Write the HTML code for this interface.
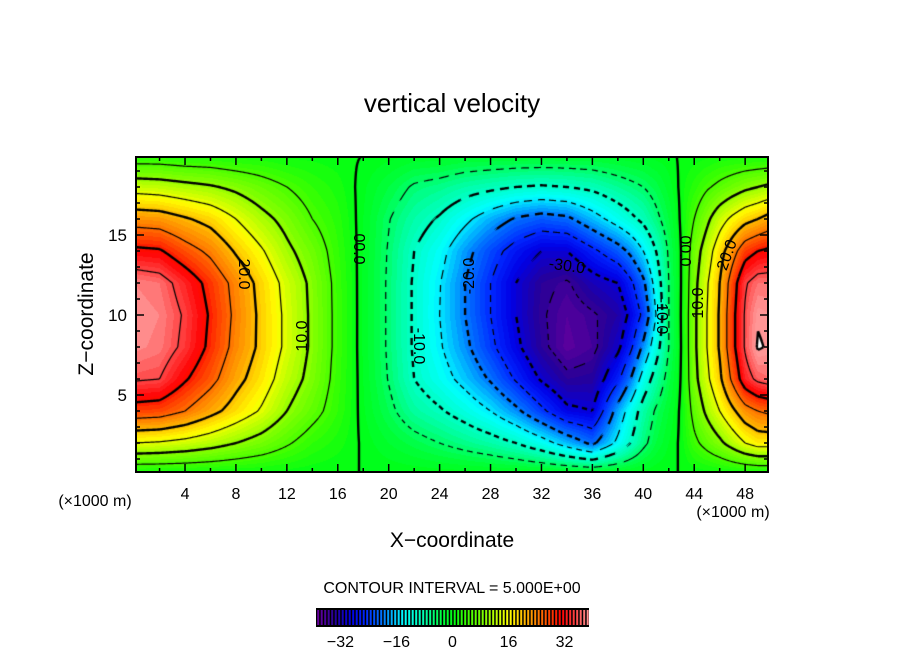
<!DOCTYPE html>
<html><head><meta charset="utf-8">
<style>
html,body{margin:0;padding:0;background:#fff;}
#wrap{position:relative;width:904px;height:654px;overflow:hidden;font-family:"Liberation Sans",sans-serif;}
#field{position:absolute;left:136px;top:157px;}
svg{position:absolute;left:0;top:0;}
</style></head>
<body>
<div id="wrap">
<canvas id="field" width="632" height="315"></canvas>
<svg id="ov" width="904" height="654">
 <text x="452" y="112" font-size="26" text-anchor="middle">vertical velocity</text>
 <text x="452" y="547" font-size="21" text-anchor="middle">X−coordinate</text>
 <text transform="translate(93,314) rotate(-90)" font-size="21" text-anchor="middle">Z−coordinate</text>
 <text x="95" y="506" font-size="16" text-anchor="middle">(×1000 m)</text>
 <text x="733" y="517" font-size="16" text-anchor="middle">(×1000 m)</text>
 <text x="452" y="593" font-size="16" text-anchor="middle">CONTOUR INTERVAL = 5.000E+00</text>
 <g id="labels" font-size="16" fill="#000">
  <text transform="translate(244,274) rotate(90)" text-anchor="middle" dy="5">20.0</text>
  <text transform="translate(302,336) rotate(-90)" text-anchor="middle" dy="5">10.0</text>
  <text transform="translate(359,249) rotate(90)" text-anchor="middle" dy="5">00.0</text>
  <text transform="translate(419,346) rotate(90)" text-anchor="middle" dy="5">-10.0</text>
  <text transform="translate(469,276) rotate(-90)" text-anchor="middle" dy="5">-20.0</text>
  <text transform="translate(567,266) rotate(8)" text-anchor="middle" dy="5">-30.0</text>
  <text transform="translate(662,316) rotate(90)" text-anchor="middle" dy="5">-10.0</text>
  <text transform="translate(685,251) rotate(90)" text-anchor="middle" dy="5">00.0</text>
  <text transform="translate(698,303) rotate(-90)" text-anchor="middle" dy="5">10.0</text>
  <text transform="translate(727,255) rotate(-70)" text-anchor="middle" dy="5">20.0</text>
 </g>
 <g id="axes"></g>
 <g id="cbar"></g>
</svg>
</div>
<script>
// ---- data ----
const xNodes=[0,2,4,6,8,10,12,14,16,18,20,22,24,26,28,30,32,34,36,38,39,40,41,42,43,44,45,46,47,48,49,50];
const zNodes=[0,2,4,6,8,10,12,14,16,18,20];
const wGrid=[
[0,15,28,35.5,38.5,39,38,31,23,13,2],
[0,14.5,27.5,35,37.5,38,37,30.5,22.5,12.5,2],
[0,13.5,25,30.5,34,34.5,33,27,20.5,11.5,1.5],
[0,12,21.5,26.5,29,29.5,28.5,24,18.5,10.5,1.5],
[0,10,18,21.5,23.5,24,23.5,19.5,15,9,1],
[0,8,14.5,17.5,19,19,18.5,15.5,11.5,7,1],
[0,5.5,10,12.5,14,14,13.5,11,8.5,5,0.5],
[0,3,6.5,8.5,9.2,9.2,9,7.5,5,3,0.5],
[0,1.5,3,3.5,3.8,3.8,3.7,3.2,2.5,1.5,0.3],
[0,-0.3,-0.8,-1,-1.2,-1.2,-1.2,-1.1,-1,-0.7,0],
[0,-2,-4,-5.2,-5.5,-5.5,-5.5,-5.3,-4.8,-3,-0.5],
[0,-3.5,-7.5,-10,-10.5,-10.5,-10.5,-10,-8,-5.5,-1],
[0,-5,-9.5,-13,-14.5,-15,-14.8,-13.5,-10.5,-6.5,-1],
[0,-6.5,-12,-16.5,-19,-20,-20,-18.5,-14,-8,-1.5],
[0,-8,-15,-20.5,-24,-25,-25,-23,-17.5,-9,-1.5],
[0,-10,-19,-25.5,-29,-30,-30,-27,-20.5,-10,-1.5],
[0,-13,-24,-30.5,-34,-34.5,-34,-30,-22,-10.5,-1.5],
[0,-17,-29,-34,-37.5,-37,-35.5,-30,-21,-10,-1.5],
[0,-21,-30,-33.5,-36,-35.5,-32,-26,-17,-9,-1.5],
[0,-14,-18,-26,-31,-33,-30,-22,-13,-7,-1.2],
[0,-10,-13,-20,-26,-29,-26,-19,-11,-6,-1],
[0,-6,-8,-13,-19,-24,-21,-15,-9,-5,-0.8],
[0,-3,-4.5,-8,-12,-15,-13,-10,-6,-3.5,-0.5],
[0,-1,-2,-3.5,-5,-5,-5,-4.5,-3,-1.5,-0.3],
[0,0.4,0.5,0.3,0.2,0.3,0.2,0.2,0.5,0.5,0.2],
[0,4,6.5,8.5,9,9,8.5,7.5,5,2.5,0.3],
[0,6.5,11,14,15,15,14.5,12.5,9,4.5,0.5],
[0,9,15,19,20.5,20.5,20,18,13,6,1],
[0,12,19,26,28.5,28.5,27.5,23,16,7.5,1],
[0,15,23,33,35.5,35.5,34.5,28,18.5,9,1],
[0,17,25,36,40.4,39.6,37,30,20,10,1],
[0,17,26,37,39.5,39,37,31,22,11,1]
];
const contourLevels=[-35,-30,-25,-20,-15,-10,-5,0,5,10,15,20,25,30,35,40];
const xTicks=[4,8,12,16,20,24,28,32,36,40,44,48];
const zTicks=[5,10,15];
const cbarTicks=[-32,-16,0,16,32];
const cbarMin=-39, cbarMax=39;

// ---- scales ----
const PX0=134.1, PXU=12.73, PZ0=475, PZU=16;
const PL=136, PT=157, W=632, H=315;
const sx=x=>PX0+x*PXU, sz=z=>PZ0-z*PZU;
const ix=px=>(px-PX0)/PXU, iz=py=>(PZ0-py)/PZU;

function locate(arr,v){let i=0;while(i<arr.length-2&&v>arr[i+1])i++;return i;}
function w(x,z){
  x=Math.max(0,Math.min(50,x));z=Math.max(0,Math.min(20,z));
  const i=locate(xNodes,x), j=locate(zNodes,z);
  const tx=(x-xNodes[i])/(xNodes[i+1]-xNodes[i]), tz=(z-zNodes[j])/(zNodes[j+1]-zNodes[j]);
  const a=wGrid[i][j],b=wGrid[i+1][j],c=wGrid[i][j+1],d=wGrid[i+1][j+1];
  return (a*(1-tx)+b*tx)*(1-tz)+(c*(1-tx)+d*tx)*tz;
}
const stops=[[-39,[110,0,160]],[-34,[40,0,150]],[-29,[0,0,230]],[-25,[0,40,255]],[-20,[0,120,255]],[-14,[0,255,255]],[-8,[0,255,170]],[-3,[0,255,60]],[0,[0,255,20]],[4,[60,255,0]],[9,[130,255,0]],[13,[200,255,0]],[16,[255,255,0]],[20,[255,190,0]],[24,[255,128,0]],[28,[255,60,0]],[31,[255,0,0]],[35,[255,70,70]],[39,[255,150,150]]];
function pal(v){
  if(v>=40)return[255,255,255];
  if(v<=stops[0][0])return stops[0][1];
  for(let k=0;k<stops.length-1;k++){const[a,ca]=stops[k],[b,cb]=stops[k+1];
    if(v<=b){const t=(v-a)/(b-a);return[0,1,2].map(m=>Math.round(ca[m]+(cb[m]-ca[m])*t));}}
  return stops[stops.length-1][1];
}

// ---- field ----
const cv=document.getElementById('field'),ctx=cv.getContext('2d');
const G=new Float32Array((W+1)*(H+1));
for(let j=0;j<=H;j++)for(let i=0;i<=W;i++)G[j*(W+1)+i]=w(ix(PL+i),iz(PT+j));
const img=ctx.createImageData(W,H);
for(let j=0;j<H;j++)for(let i=0;i<W;i++){
  const v=w(ix(PL+i+0.5),iz(PT+j+0.5));const c=pal(v>=40?40:Math.floor(v)+0.5);
  const o=(j*W+i)*4;img.data[o]=c[0];img.data[o+1]=c[1];img.data[o+2]=c[2];img.data[o+3]=255;}
ctx.putImageData(img,0,0);

// ---- contours (marching squares) ----
contourLevels.forEach(L=>{
  ctx.beginPath();
  for(let j=0;j<H;j++)for(let i=0;i<W;i++){
    const a=G[j*(W+1)+i],b=G[j*(W+1)+i+1],c=G[(j+1)*(W+1)+i+1],d=G[(j+1)*(W+1)+i];
    const mn=Math.min(a,b,c,d),mx=Math.max(a,b,c,d);
    if(L<mn||L>=mx)continue;
    if(L<0&&((i+j)%12)>=7)continue;
    const pts=[];
    if((a<L)!==(b<L))pts.push([i+(L-a)/(b-a),j]);
    if((b<L)!==(c<L))pts.push([i+1,j+(L-b)/(c-b)]);
    if((c<L)!==(d<L))pts.push([i+1-(L-c)/(d-c),j+1]);
    if((d<L)!==(a<L))pts.push([i,j+1-(L-d)/(a-d)]);
    for(let k=0;k+1<pts.length;k+=2){ctx.moveTo(pts[k][0],pts[k][1]);ctx.lineTo(pts[k+1][0],pts[k+1][1]);}
  }
  ctx.strokeStyle='#000';ctx.lineWidth=(L%10===0)?2.4:1.2;ctx.stroke();
});

// ---- axes ----
const NS='http://www.w3.org/2000/svg';
const axes=document.getElementById('axes');
function mk(tag,at,parent){const e=document.createElementNS(NS,tag);for(const k in at)e.setAttribute(k,at[k]);(parent||axes).appendChild(e);return e;}
const frame=mk('rect',{x:PL,y:PT,width:W,height:H,fill:'none',stroke:'#000','stroke-width':2});


for(let x=2;x<50;x+=2){
  const L=(x%4===0)?8:4,p=sx(x);
  const t1=mk('line',{x1:p,x2:p,y1:PT+H,y2:PT+H-L,stroke:'#000','stroke-width':1.5});
  
  
  const t2=mk('line',{x1:p,x2:p,y1:PT,y2:PT+L,stroke:'#000','stroke-width':1.5});
  
  
}
for(let z=1;z<20;z++){
  const L=(z%5===0)?8:4,p=sz(z);
  const t1=mk('line',{x1:PL,x2:PL+L,y1:p,y2:p,stroke:'#000','stroke-width':1.5});
  
  
  const t2=mk('line',{x1:PL+W,x2:PL+W-L,y1:p,y2:p,stroke:'#000','stroke-width':1.5});
  
  
}
xTicks.forEach(x=>{
  const t=mk('text',{x:sx(x),y:499,'font-size':16,'text-anchor':'middle'});
  t.textContent=String(x);
  
  
});
zTicks.forEach(z=>{
  const t=mk('text',{x:127,y:sz(z)+6,'font-size':17,'text-anchor':'end'});
  t.textContent=String(z);
  
  
});

// ---- colorbar ----
const cb=document.getElementById('cbar');
const CB0=316,CB1=589,CBT=608,CBH=19;
const cbx=v=>CB0+(v-cbarMin)*(CB1-CB0)/(cbarMax-cbarMin);
const bg=mk('rect',{x:CB0,y:CBT,width:CB1-CB0,height:CBH,fill:'#000'},cb);


for(let v=cbarMin;v<cbarMax;v++){
  const c=pal(v+0.5);
  const s=mk('rect',{x:cbx(v)+1.2,y:CBT+2,width:2,height:CBH-4,fill:'rgb('+c.join(',')+')'},cb);
  
  
}
cbarTicks.forEach(v=>{
  const t=mk('text',{x:cbx(v),y:647,'font-size':16,'text-anchor':'middle'},cb);
  t.textContent=(v<0?'−':'')+Math.abs(v);
  
  
});
</script>
</body></html>
